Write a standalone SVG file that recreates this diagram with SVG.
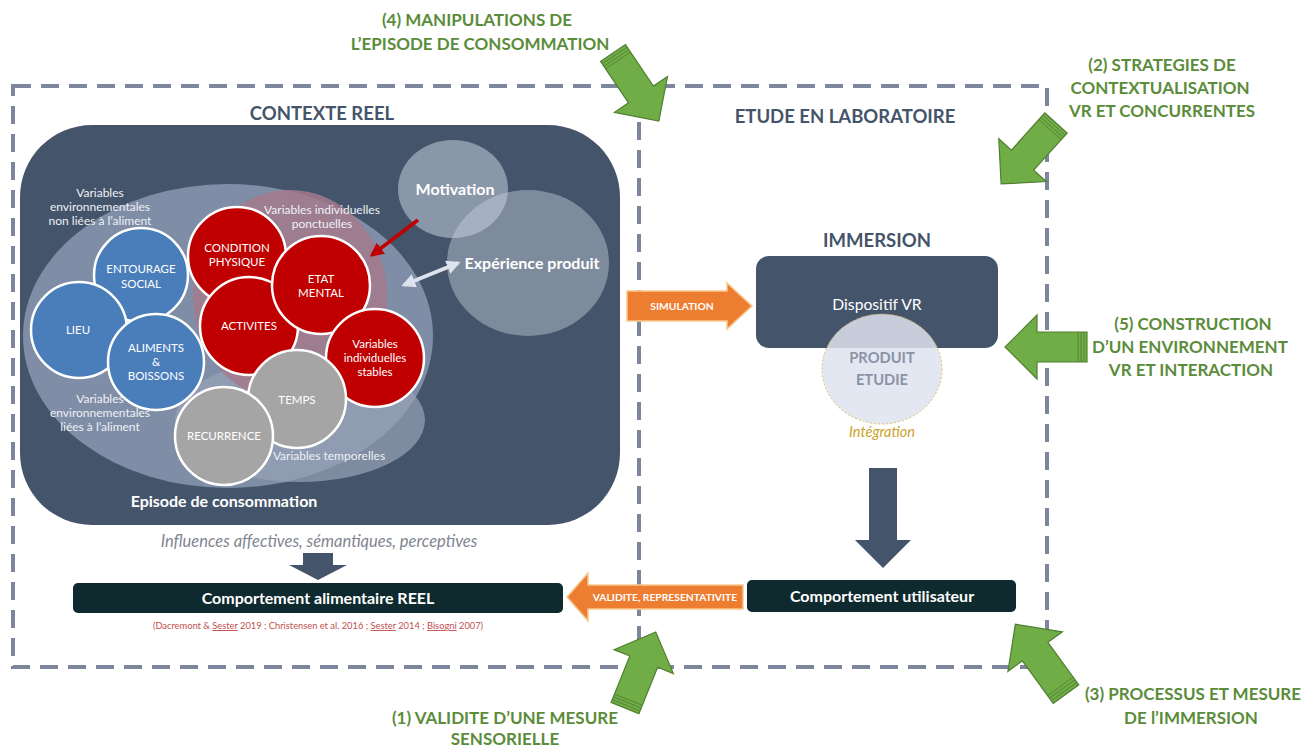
<svg xmlns="http://www.w3.org/2000/svg" width="1305" height="751" viewBox="0 0 1305 751">
<style>
.t{font-family:Lato,"Liberation Sans",sans-serif}
.g{font-family:Lato,"Liberation Sans",sans-serif;font-weight:bold;font-size:17px;fill:#5b8c3a;text-anchor:middle}
.hd{font-family:Lato,"Liberation Sans",sans-serif;font-weight:bold;font-size:18.5px;fill:#44546a;text-anchor:middle}
.cl{font-family:Lato,"Liberation Sans",sans-serif;font-size:11.5px;fill:#ffffff;text-anchor:middle}
.vl{font-family:Lato,"Liberation Sans",sans-serif;font-size:12px;fill:#eef1f6;text-anchor:middle}
.wb{font-family:Lato,"Liberation Sans",sans-serif;font-weight:bold;font-size:16px;fill:#ffffff;text-anchor:middle}
.ob{font-family:Lato,"Liberation Sans",sans-serif;font-weight:bold;font-size:10.3px;fill:#ffffff;text-anchor:middle}
.blue{fill:#4a7ebb;stroke:#ffffff;stroke-width:2.5}
.red{fill:#c00000;stroke:#ffffff;stroke-width:2.5}
.gray{fill:#a5a5a5;stroke:#ffffff;stroke-width:2.5}
.dash{fill:none;stroke:#7d869c;stroke-width:4;stroke-dasharray:18 10}
.orange{fill:#ed7d31;stroke:#f8c98f;stroke-width:1.5}
.slate{fill:#44546a}
.ul{text-decoration:underline}
</style>
<defs>
<g id="garrow">
<path d="M0,-15 L50,-15 L50,-32 L82,0 L50,32 L50,15 L0,15 Z" fill="#70ad47" stroke="#4f7f30" stroke-width="1.2"/>
<path d="M3,-15 L3,15 M6,-15 L6,15 M9,-15 L9,15" stroke="#4f7f30" stroke-width="0.8" fill="none"/>
</g>
<marker id="mr" viewBox="0 0 10 10" refX="8" refY="5" markerWidth="4" markerHeight="4" orient="auto-start-reverse">
<path d="M0,0 L10,5 L0,10 Z" fill="#c00000"/>
</marker>
<marker id="mw" viewBox="0 0 10 10" refX="8" refY="5" markerWidth="3.5" markerHeight="3.5" orient="auto-start-reverse">
<path d="M0,0 L10,5 L0,10 Z" fill="#dde3ee"/>
</marker>
</defs>

<rect width="1305" height="751" fill="#ffffff"/>

<g id="frame">
<rect x="13" y="86" width="1034" height="581" class="dash"/>
<line x1="639" y1="122" x2="639" y2="667" class="dash"/>
</g>

<g id="contexte-reel">
<text x="322" y="120" class="hd">CONTEXTE REEL</text>
<rect x="20" y="125" width="600" height="400" rx="72" fill="#44546a"/>
<ellipse cx="228" cy="336" rx="205" ry="152" fill="#808da6"/>
<ellipse cx="300" cy="420" rx="125" ry="62" fill="#97a2b8" opacity="0.7"/>
<ellipse cx="290" cy="296" rx="97" ry="106" fill="#a27a8b" opacity="0.85"/>
</g>

<g id="labels-vars">
<text class="vl" x="100" y="197">Variables</text>
<text class="vl" x="100" y="211">environnementales</text>
<text class="vl" x="100" y="225">non liées à l’aliment</text>
<text class="vl" x="322" y="214">Variables individuelles</text>
<text class="vl" x="322" y="228">ponctuelles</text>
<text class="vl" x="100" y="403">Variables</text>
<text class="vl" x="100" y="417">environnementales</text>
<text class="vl" x="100" y="431">liées à l’aliment</text>
<text class="vl" x="329" y="460">Variables temporelles</text>
</g>

<g id="n-entourage"><circle cx="141" cy="275" r="47" class="blue"/><text class="cl" x="141" y="273">ENTOURAGE</text><text class="cl" x="141" y="288">SOCIAL</text></g>
<g id="n-lieu"><circle cx="79" cy="330" r="48" class="blue"/><text class="cl" x="78" y="334">LIEU</text></g>
<g id="n-aliments"><circle cx="156" cy="362" r="48" class="blue"/><text class="cl" x="156" y="352">ALIMENTS</text><text class="cl" x="156" y="366">&amp;</text><text class="cl" x="156" y="380">BOISSONS</text></g>
<g id="n-condition"><circle cx="237" cy="256" r="49" class="red"/><text class="cl" x="237" y="252">CONDITION</text><text class="cl" x="237" y="266">PHYSIQUE</text></g>
<g id="n-activites"><circle cx="249" cy="326" r="49" class="red"/><text class="cl" x="249" y="330">ACTIVITES</text></g>
<g id="n-etat"><circle cx="321" cy="285" r="49" class="red"/><text class="cl" x="321" y="283">ETAT</text><text class="cl" x="321" y="297">MENTAL</text></g>
<g id="n-stables"><circle cx="375" cy="358" r="49" class="red"/><text class="cl" x="375" y="348">Variables</text><text class="cl" x="375" y="362">individuelles</text><text class="cl" x="375" y="376">stables</text></g>
<g id="n-temps"><circle cx="297" cy="399" r="49" class="gray"/><text class="cl" x="297" y="404">TEMPS</text></g>
<g id="n-recurrence"><circle cx="224" cy="436" r="49" class="gray"/><text class="cl" x="224" y="440">RECURRENCE</text></g>

<g id="n-motivation"><ellipse cx="453" cy="189" rx="55" ry="49" fill="#c5cedc" opacity="0.55"/><text class="wb" x="455" y="195">Motivation</text></g>
<g id="n-experience"><ellipse cx="528" cy="263" rx="81" ry="73" fill="#c5cedc" opacity="0.45"/><text class="wb" x="532" y="269">Expérience produit</text></g>

<text class="wb" x="224" y="507" font-size="16.5">Episode de consommation</text>
<text class="t" x="319" y="547" font-size="16.5" font-style="italic" fill="#7f8591" text-anchor="middle">Influences affectives, sémantiques, perceptives</text>

<g id="n-comp-reel">
<rect x="73" y="583" width="490" height="30" rx="5" fill="#0e2a2e"/>
<text class="wb" x="318" y="604">Comportement alimentaire REEL</text>
<text class="t" x="318" y="629" font-size="9.3" fill="#c0504d" text-anchor="middle">(Dacremont &amp; <tspan class="ul">Sester</tspan> 2019 ; Christensen et al. 2016 ; <tspan class="ul">Sester</tspan> 2014 ; <tspan class="ul">Bisogni</tspan> 2007)</text>
</g>

<g id="labo">
<text class="hd" x="845" y="123">ETUDE EN LABORATOIRE</text>
<text class="hd" x="877" y="247">IMMERSION</text>
</g>

<g id="n-dispositif">
<rect x="756" y="256" width="242" height="92" rx="13" fill="#44546a"/>
<text class="t" x="877" y="310" font-size="15.7" fill="#ffffff" text-anchor="middle">Dispositif VR</text>
</g>
<g id="n-produit">
<ellipse cx="882" cy="369" rx="60" ry="55" fill="#dfe3ef" opacity="0.85" stroke="#d9b347" stroke-width="1" stroke-dasharray="2 2"/>
<text class="t" x="882" y="363" font-size="14.7" font-weight="bold" fill="#8a93a5" text-anchor="middle">PRODUIT</text>
<text class="t" x="882" y="385" font-size="14.7" font-weight="bold" fill="#8a93a5" text-anchor="middle">ETUDIE</text>
<text class="t" x="882" y="437" font-size="14.5" font-style="italic" fill="#c9a227" text-anchor="middle">Intégration</text>
</g>

<g id="n-comp-util">
<rect x="747" y="580" width="269" height="32" rx="5" fill="#0e2a2e"/>
<text class="wb" x="882" y="602">Comportement utilisateur</text>
</g>

<g id="connectors">
<line x1="418" y1="220" x2="372" y2="255" stroke="#c00000" stroke-width="3.5" marker-end="url(#mr)"/>
<line x1="404" y1="285" x2="458" y2="263" stroke="#dde3ee" stroke-width="4" marker-start="url(#mw)" marker-end="url(#mw)"/>
<path class="slate" d="M303,553 L333,553 L333,565 L347,565 L318,580 L289,565 L303,565 Z"/>
<path class="slate" d="M869,468 L897,468 L897,540 L911,540 L883,568 L855,540 L869,540 Z"/>
<path class="orange" d="M627,291 L727,291 L727,283 L752,306 L727,329 L727,321 L627,321 Z"/>
<text class="ob" x="682" y="310">SIMULATION</text>
<path class="orange" d="M743,585 L588,585 L588,573 L567,597 L588,621 L588,609 L743,609 Z"/>
<text class="ob" x="665" y="601">VALIDITE, REPRESENTATIVITE</text>
<use href="#garrow" transform="translate(613,53) rotate(56)"/>
<use href="#garrow" transform="translate(1056,123) rotate(132)"/>
<use href="#garrow" transform="translate(1087,347) rotate(180)"/>
<use href="#garrow" transform="translate(1066,694) rotate(234) scale(1.05)"/>
<use href="#garrow" transform="translate(625,708) rotate(-68)"/>
</g>

<g id="green-labels">
<text class="g" x="477" y="26">(4) MANIPULATIONS DE</text>
<text class="g" x="480" y="50">L’EPISODE DE CONSOMMATION</text>
<text class="g" x="1162" y="71">(2) STRATEGIES DE</text>
<text class="g" x="1160" y="94">CONTEXTUALISATION</text>
<text class="g" x="1162" y="117">VR ET CONCURRENTES</text>
<text class="g" x="1193" y="330">(5) CONSTRUCTION</text>
<text class="g" x="1190" y="353">D’UN ENVIRONNEMENT</text>
<text class="g" x="1191" y="376">VR ET INTERACTION</text>
<text class="g" x="1193" y="700">(3) PROCESSUS ET MESURE</text>
<text class="g" x="1191" y="724">DE l’IMMERSION</text>
<text class="g" x="505" y="724">(1) VALIDITE D’UNE MESURE</text>
<text class="g" x="505" y="745">SENSORIELLE</text>
</g>
</svg>
